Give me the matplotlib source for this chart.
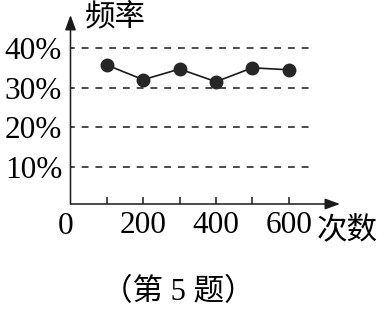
import matplotlib
matplotlib.use("Agg")
import matplotlib.pyplot as plt

plt.rcParams["font.family"] = ["Liberation Serif", "Noto Sans CJK SC"]

# data
trials = [100, 200, 300, 400, 500, 600]
freq_pct = [35.7, 32.0, 34.7, 31.5, 35.0, 34.5]
grid_levels = [10, 20, 30, 40]
ytick_labels = ["10%", "20%", "30%", "40%"]
xtick_vals = [100, 200, 300, 400, 500, 600]
xtick_labels = ["", "200", "", "400", "", "600"]

W, H = 377, 312
fig = plt.figure(figsize=(W / 100, H / 100), dpi=100)
ax = fig.add_axes([70.5 / W, (H - 204) / H, (340 - 70.5) / W, (204 - 15) / H])
ax.set_xlim(0, 741)
ax.set_ylim(0.7, 48.3)

ink = "#1a1a1a"

# dashed reference lines
ax.hlines(grid_levels, 0, 671, colors=ink, lw=1.1, linestyles=(2, (4.5, 4.5)))

# the series
ax.plot(trials, freq_pct, "-", color=ink, lw=1.2, zorder=3)
ax.plot(trials, freq_pct, "o", color="#262626", ms=9, zorder=4)

for s in ax.spines.values():
    s.set_visible(False)

arrow = dict(arrowstyle="-|>,head_length=0.6,head_width=0.22", mutation_scale=15,
             lw=1.1, color=ink, shrinkA=0, shrinkB=0)
ax.annotate("", xy=(1, 0), xytext=(0, 0), xycoords="axes fraction", arrowprops=arrow)
ax.annotate("", xy=(0, 1), xytext=(0, 0), xycoords="axes fraction", arrowprops=arrow)

ax.set_xticks(xtick_vals)
ax.set_xticklabels(xtick_labels, fontsize=22.5)
ax.tick_params(axis="x", direction="in", length=5, width=1.1, color=ink, pad=5)
ax.set_yticks(grid_levels)
ax.set_yticklabels(ytick_labels, fontsize=22.5)
ax.tick_params(axis="y", length=0, pad=6)

fig.text(66 / W, 1 - 227 / H, "0", fontsize=22.5, ha="center", va="center")
fig.text(85 / W, 1 - 19 / H, "频率", fontsize=22, ha="left", va="center")
fig.text(317 / W, 1 - 231 / H, "次数", fontsize=22, ha="left", va="center")
fig.text(178 / W, 1 - 293 / H, "（第 5 题）", fontsize=22, ha="center", va="center")

fig.savefig("out.png", dpi=100)
